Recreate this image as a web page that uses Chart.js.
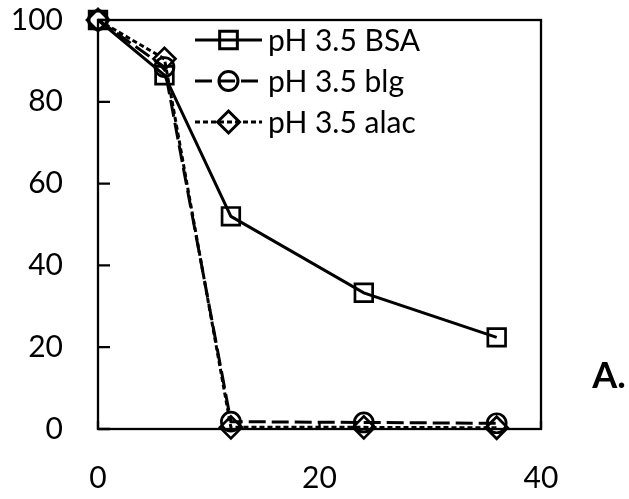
<!DOCTYPE html>
<html>
<head>
<meta charset="utf-8">
<script src="https://cdn.jsdelivr.net/npm/chart.js@4/dist/chart.umd.min.js"></script>
<style>
  html, body { margin: 0; padding: 0; background: #ffffff; }
  #wrap { position: relative; width: 629px; height: 499px; }
</style>
</head>
<body>
<div id="wrap"><canvas id="chart" width="629" height="499"></canvas></div>
<script>
// time points and residual percentages per protein
const timePoints = [0, 6, 12, 24, 36];
const bsaValues  = [100, 86.5, 52, 33.3, 22.4];
const blgValues  = [100, 88.5, 1.8, 1.6, 1.4];
const alacValues = [100, 90.5, 0.4, 0.4, 0.3];

const seriesNames = ['pH 3.5 BSA', 'pH 3.5 blg', 'pH 3.5 alac'];
const xTickValues = [0, 20, 40];
const yTickValues = [0, 20, 40, 60, 80, 100];
const panelLabel = 'A.';

const INK = '#000000';
const FONT = "'Lato', sans-serif";

function toPoints(values) {
    return timePoints.map((t, i) => ({ x: t, y: values[i] }));
}

const seriesStyles = [
    { dash: [], pointStyle: 'rect', radius: 12.5 },
    { dash: [17, 6], pointStyle: 'circle', radius: 9.5 },
    { dash: [5, 3], pointStyle: 'rectRot', radius: 11 }
];

const datasets = [bsaValues, blgValues, alacValues].map((vals, i) => ({
    label: seriesNames[i],
    data: toPoints(vals),
    borderColor: INK,
    borderWidth: 3,
    borderDash: seriesStyles[i].dash,
    pointStyle: seriesStyles[i].pointStyle,
    pointRadius: seriesStyles[i].radius,
    pointBorderWidth: 2.7,
    pointBorderColor: INK,
    pointBackgroundColor: 'rgba(0,0,0,0)',
    tension: 0,
    fill: false,
    clip: false
}));

// box around the plot area plus short inward tick marks
const framePlugin = {
    id: 'frame',
    beforeDatasetsDraw(chart) {
        const { ctx, chartArea: a, scales } = chart;
        ctx.save();
        ctx.strokeStyle = INK;
        ctx.lineWidth = 2.3;
        ctx.setLineDash([]);
        ctx.strokeRect(a.left, a.top, a.right - a.left, a.bottom - a.top);
        ctx.beginPath();
        yTickValues.forEach(v => {
            const y = scales.y.getPixelForValue(v);
            ctx.moveTo(a.left, y);
            ctx.lineTo(a.left + 12, y);
        });
        xTickValues.forEach(v => {
            const x = scales.x.getPixelForValue(v);
            ctx.moveTo(x, a.bottom);
            ctx.lineTo(x, a.bottom - 8);
        });
        ctx.stroke();
        ctx.restore();
    }
};

// legend rows with line sample and hollow marker, plus the panel letter
const legendPlugin = {
    id: 'customLegend',
    afterDraw(chart) {
        const { ctx } = chart;
        const x0 = 195, x1 = 262, textX = 268;
        const rowY = [40, 81, 122];
        ctx.save();
        chart.data.datasets.forEach((ds, i) => {
            const y = rowY[i];
            ctx.strokeStyle = INK;
            ctx.lineWidth = 3;
            ctx.setLineDash(ds.borderDash);
            ctx.beginPath();
            ctx.moveTo(x0, y);
            ctx.lineTo(x1, y);
            ctx.stroke();
            ctx.setLineDash([]);
            ctx.fillStyle = 'rgba(0,0,0,0)';
            Chart.helpers.drawPoint(ctx, {
                pointStyle: ds.pointStyle,
                radius: ds.pointRadius,
                borderWidth: 2.7,
                rotation: 0
            }, (x0 + x1) / 2, y);
            ctx.fillStyle = INK;
            ctx.font = '30px ' + FONT;
            ctx.textAlign = 'left';
            ctx.textBaseline = 'middle';
            ctx.fillText(ds.label, textX, y + 1);
        });
        ctx.font = 'bold 36px ' + FONT;
        ctx.textAlign = 'center';
        ctx.textBaseline = 'middle';
        ctx.fillText(panelLabel, 609, 376);
        ctx.restore();
    }
};

new Chart(document.getElementById('chart'), {
    type: 'line',
    data: { datasets },
    options: {
        responsive: false,
        animation: false,
        layout: { padding: { top: 20, right: 88, left: 0, bottom: 0 } },
        plugins: {
            legend: { display: false },
            tooltip: { enabled: false }
        },
        scales: {
            x: {
                type: 'linear',
                min: 0,
                max: 40,
                afterBuildTicks(scale) {
                    scale.ticks = xTickValues.map(v => ({ value: v }));
                },
                afterFit(scale) { scale.height = 70; },
                grid: { display: false, drawTicks: false },
                border: { display: false },
                ticks: {
                    color: INK,
                    padding: 31,
                    font: { family: FONT, size: 30 },
                    maxRotation: 0
                }
            },
            y: {
                min: 0,
                max: 100,
                afterBuildTicks(scale) {
                    scale.ticks = yTickValues.map(v => ({ value: v }));
                },
                afterFit(scale) {
                    scale.width = 98;
                    scale.paddingTop = 0;
                    scale.paddingBottom = 0;
                },
                grid: { display: false, drawTicks: false },
                border: { display: false },
                ticks: {
                    color: INK,
                    padding: 35,
                    font: { family: FONT, size: 30 }
                }
            }
        }
    },
    plugins: [framePlugin, legendPlugin]
});
</script>
</body>
</html>
